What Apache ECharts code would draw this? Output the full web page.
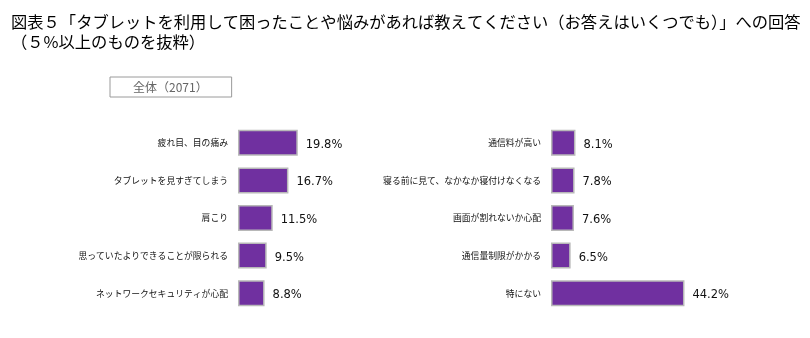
<!DOCTYPE html>
<html>
<head>
<meta charset="utf-8">
<script src="https://cdn.jsdelivr.net/npm/echarts@6/dist/echarts.min.js"></script>
<style>
  html, body { margin: 0; padding: 0; background: #fff; }
  #chart { width: 810px; height: 338px; }
</style>
</head>
<body>
<div id="chart"></div>
<script>
// Survey answers (multiple choice), share of respondents in percent
const seriesName = '全体（2071）';

const leftCategories = [
  '疲れ目、目の痛み',
  'タブレットを見すぎてしまう',
  '肩こり',
  '思っていたよりできることが限られる',
  'ネットワークセキュリティが心配'
];
const leftValues = [19.8, 16.7, 11.5, 9.5, 8.8];

const rightCategories = [
  '通信料が高い',
  '寝る前に見て、なかなか寝付けなくなる',
  '画面が割れないか心配',
  '通信量制限がかかる',
  '特にない'
];
const rightValues = [8.1, 7.8, 7.6, 6.5, 44.2];

const axisMax = 50;

const JP_FONT = '"Noto Sans CJK JP", "Noto Sans", sans-serif';
const BAR_COLOR = '#7030A0';

function categoryAxis(gridIndex, data) {
  return {
    type: 'category',
    gridIndex: gridIndex,
    data: data,
    inverse: true,
    axisLine: { show: false },
    axisTick: { show: false },
    splitLine: { show: false },
    axisLabel: {
      margin: 10,
      fontSize: 8.8,
      fontFamily: JP_FONT,
      color: '#111'
    }
  };
}

function valueAxis(gridIndex) {
  return {
    type: 'value',
    gridIndex: gridIndex,
    min: 0,
    max: axisMax,
    show: false,
    splitLine: { show: false }
  };
}

function barSeries(axisIndex, values) {
  return {
    name: seriesName,
    type: 'bar',
    xAxisIndex: axisIndex,
    yAxisIndex: axisIndex,
    data: values,
    barWidth: 26,
    itemStyle: {
      color: BAR_COLOR,
      borderColor: '#b8b8b8',
      borderWidth: 1.5
    },
    label: {
      show: true,
      position: 'right',
      distance: 8,
      offset: [0, 2],
      formatter: p => p.value.toFixed(1) + '%',
      fontFamily: '"DejaVu Sans", Verdana, sans-serif',
      fontSize: 11.5,
      color: '#111'
    },
    animation: false
  };
}

const chart = echarts.init(document.getElementById('chart'), null, { renderer: 'canvas' });

chart.setOption({
  backgroundColor: '#fff',
  animation: false,
  title: {
    text: '図表５「タブレットを利用して困ったことや悩みがあれば教えてください（お答えはいくつでも）」への回答\n（５%以上のものを抜粋）',
    left: 6,
    top: 7,
    textStyle: {
      fontFamily: JP_FONT,
      fontSize: 16.3,
      fontWeight: 'normal',
      color: '#000',
      lineHeight: 20
    }
  },
  legend: {
    data: [{ name: seriesName, icon: 'none' }],
    left: 110,
    top: 77,
    itemWidth: 0,
    itemHeight: 0,
    padding: [4, 24, 4, 18],
    borderColor: '#9a9a9a',
    borderWidth: 1,
    selectedMode: false,
    textStyle: {
      fontFamily: JP_FONT,
      fontSize: 12,
      color: '#666'
    }
  },
  grid: [
    { left: 238, top: 124, width: 151, height: 188 },
    { left: 551, top: 124, width: 151, height: 188 }
  ],
  xAxis: [valueAxis(0), valueAxis(1)],
  yAxis: [categoryAxis(0, leftCategories), categoryAxis(1, rightCategories)],
  series: [barSeries(0, leftValues), barSeries(1, rightValues)]
});
</script>
</body>
</html>
